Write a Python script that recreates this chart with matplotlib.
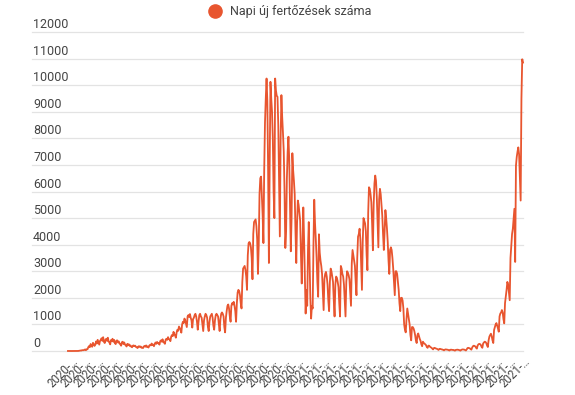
import numpy as np
import pandas as pd
import matplotlib
matplotlib.use("Agg")
import matplotlib.pyplot as plt
import matplotlib.transforms as mtransforms
from matplotlib.lines import Line2D

plt.rcParams['font.family'] = ['Roboto', 'DejaVu Sans']

line_color = '#e8552f'
text_color = '#444444'
grid_color = '#e3e3e3'

legend_label = 'Napi új fertőzések száma'
start_date = '2020-02-26'

# daily new cases, one row per week (Wed ... Tue)
weekly_cases = [
    [1, 0, 1, 0, 1, 0, 0],
    [1, 0, 2, 1, 4, 2, 2],
    [6, 12, 19, 16, 30, 30, 30],
    [45, 60, 31, 66, 66, 143, 186],
    [144, 263, 186, 160, 308, 250, 192],
    [250, 360, 280, 420, 330, 240, 380],
    [420, 480, 380, 520, 350, 300, 420],
    [460, 380, 500, 360, 320, 250, 410],
    [380, 460, 350, 420, 300, 260, 390],
    [400, 320, 360, 280, 250, 200, 330],
    [350, 260, 320, 240, 210, 170, 270],
    [230, 250, 190, 210, 160, 140, 200],
    [210, 180, 200, 150, 140, 110, 170],
    [180, 150, 170, 120, 130, 110, 170],
    [190, 160, 210, 150, 170, 130, 200],
    [230, 210, 280, 230, 240, 180, 270],
    [320, 270, 340, 290, 300, 240, 370],
    [400, 350, 440, 330, 320, 270, 430],
    [460, 420, 520, 450, 430, 370, 540],
    [600, 560, 720, 640, 580, 500, 700],
    [800, 760, 920, 860, 800, 690, 1000],
    [1100, 1050, 1220, 1150, 1030, 900, 1300],
    [1350, 1280, 1390, 1250, 1150, 880, 1200],
    [1250, 1350, 1400, 1300, 1100, 800, 1100],
    [1350, 1400, 1300, 1250, 1000, 750, 1150],
    [1300, 1400, 1350, 1250, 900, 750, 1100],
    [1300, 1350, 1400, 1250, 950, 800, 1150],
    [1350, 1400, 1350, 1300, 1000, 750, 1200],
    [1400, 1450, 1400, 1300, 900, 700, 1250],
    [1500, 1700, 1750, 1600, 1300, 1100, 1700],
    [1800, 1750, 1850, 1700, 1500, 1100, 1800],
    [2200, 2300, 2250, 2100, 1800, 1600, 2600],
    [3100, 3150, 3200, 3050, 2800, 2300, 3600],
    [4050, 4100, 4050, 3900, 3500, 2700, 4400],
    [4850, 4900, 4950, 4700, 4200, 2900, 4000],
    [5900, 6500, 6560, 5800, 5100, 4060, 6800],
    [8600, 9500, 10250, 9400, 6800, 3310, 7000],
    [10125, 9500, 9000, 8000, 6000, 5000, 10250],
    [9800, 9600, 9560, 8500, 6500, 4310, 8000],
    [9625, 8800, 8200, 7500, 6000, 3875, 4500],
    [6500, 7500, 8060, 7200, 5500, 3750, 5000],
    [7440, 6800, 6400, 5900, 4500, 3310, 4800],
    [5660, 5500, 5200, 4900, 3600, 2540, 4000],
    [5400, 4200, 2800, 1410, 2300, 1700, 3800],
    [4850, 3500, 2000, 1220, 1700, 1600, 4000],
    [5690, 4800, 4200, 3500, 2600, 2040, 4390],
    [3700, 3400, 3200, 2900, 2200, 1540, 2700],
    [2900, 2975, 2800, 2500, 1900, 1500, 2600],
    [3100, 3000, 2800, 2600, 1900, 1300, 2500],
    [2800, 2750, 2600, 2400, 1800, 1300, 3200],
    [3100, 2900, 2800, 2500, 1900, 1300, 2600],
    [3000, 2950, 2850, 2700, 2200, 1700, 3300],
    [3800, 3600, 3400, 3200, 2600, 2100, 3500],
    [4300, 4400, 4600, 4200, 3200, 2300, 4100],
    [5000, 4900, 4800, 4500, 3600, 3040, 5200],
    [6160, 6100, 5900, 5600, 4800, 3790, 5500],
    [6300, 6600, 6400, 5800, 4900, 3900, 5700],
    [6100, 5900, 5500, 5100, 4400, 3800, 4500],
    [5300, 5000, 4600, 4100, 3400, 2900, 3800],
    [3900, 3800, 3500, 3100, 2600, 2100, 3000],
    [3000, 2900, 2600, 2300, 1800, 1500, 2000],
    [2000, 1900, 1600, 1000, 800, 700, 1200],
    [1600, 1400, 1200, 1000, 600, 400, 900],
    [900, 850, 750, 600, 400, 300, 600],
    [660, 550, 450, 380, 250, 180, 350],
    [300, 280, 250, 220, 150, 120, 200],
    [200, 160, 140, 120, 90, 60, 110],
    [120, 100, 90, 80, 60, 40, 80],
    [80, 70, 60, 55, 40, 25, 50],
    [60, 55, 50, 45, 30, 20, 45],
    [50, 45, 40, 40, 25, 15, 40],
    [45, 50, 45, 40, 25, 15, 40],
    [55, 60, 55, 50, 35, 20, 60],
    [110, 120, 110, 100, 70, 50, 130],
    [180, 200, 190, 170, 120, 90, 210],
    [250, 270, 260, 230, 160, 120, 280],
    [320, 350, 340, 300, 210, 150, 400],
    [540, 600, 650, 550, 400, 300, 790],
    [900, 1000, 1050, 950, 850, 725, 1300],
    [1410, 1450, 1540, 1450, 1200, 1040, 1800],
    [2040, 2300, 2600, 2500, 2200, 1910, 3500],
    [3975, 4400, 4600, 5000, 5350, 3350, 6975],
    [7300, 7500, 7660, 7400, 6500, 5660, 9500],
    [10975, 10850],
]

cases = [v for week in weekly_cases for v in week]
dates = pd.date_range(start_date, periods=len(cases), freq='D')
days = np.arange(len(cases))

tick_days = np.arange(4, len(cases), 17)
tick_labels = [f"{dates[i].year}-…" for i in tick_days]
y_values = list(range(0, 13000, 1000))

W, H = 575, 395
fig = plt.figure(figsize=(W / 100, H / 100), dpi=100)
ax = fig.add_axes([32 / W, 44 / H, 491 / W, 319 / H])

for v in y_values:
    ax.axhline(v, color=grid_color, lw=0.9, zorder=0, clip_on=False)

ax.plot(days, cases, color=line_color, lw=1.3, clip_on=False, zorder=3)

ax.set_xlim(-46, len(cases) - 1)
ax.set_ylim(0, 12000)

for s in ax.spines.values():
    s.set_visible(False)
ax.set_yticks([])
ax.set_xticks(tick_days, tick_labels, rotation=45, ha='right', va='top',
              rotation_mode='anchor', fontsize=8.3, color=text_color)
ax.tick_params(axis='x', length=0, pad=3)

label_trans = mtransforms.offset_copy(
    mtransforms.blended_transform_factory(ax.transAxes, ax.transData),
    fig=fig, x=1, y=4, units='dots')
for v in y_values:
    ax.text(0, v, str(v), transform=label_trans, ha='left', va='baseline',
            fontsize=9, color=text_color)

# legend
fig.add_artist(Line2D([215 / W], [1 - 11 / H], marker='o', markersize=9.5,
                      color=line_color, linestyle='none', transform=fig.transFigure))
fig.text(230 / W, 1 - 11 / H, legend_label, ha='left', va='center',
         fontsize=9, color=text_color)

fig.savefig('out.png', dpi=100, facecolor='white')
